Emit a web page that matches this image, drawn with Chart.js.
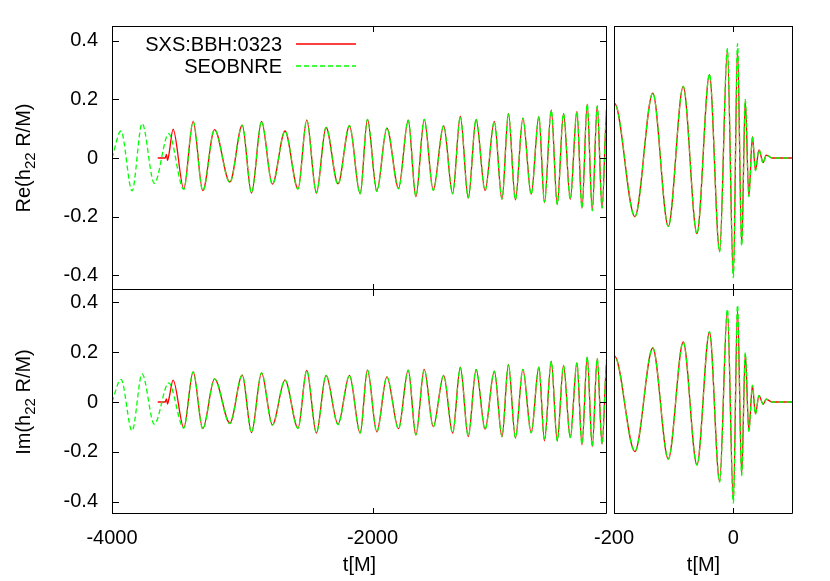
<!DOCTYPE html>
<html>
<head>
<meta charset="utf-8">
<script src="https://cdn.jsdelivr.net/npm/chart.js@4.4.1/dist/chart.umd.min.js"></script>
<style>
  body { margin: 0; background: #fff; }
  #wrap { position: relative; width: 830px; height: 581px; font-family: "Liberation Sans", Arial, sans-serif; }
  canvas { position: absolute; }
  .lgText { position: absolute; font-size: 20px; line-height: 22px; color: #000; text-align: right; white-space: nowrap; }
  .lgLine { position: absolute; }
</style>
</head>
<body>
<div id="wrap">
  <canvas id="reLeft" width="607" height="290" style="left:0;top:0"></canvas>
  <canvas id="reRight" width="240" height="290" style="left:560px;top:0"></canvas>
  <canvas id="imLeft" width="607" height="291" style="left:0;top:290px"></canvas>
  <canvas id="imRight" width="240" height="291" style="left:560px;top:290px"></canvas>

  <div class="lgText" style="right:548px;top:33px">SXS:BBH:0323</div>
  <div class="lgText" style="right:548px;top:55px">SEOBNRE</div>
  <svg class="lgLine" style="left:296px;top:40px" width="62" height="30">
    <line x1="0" y1="4" x2="60" y2="4" stroke="#ff0000" stroke-width="1.3"/>
    <line x1="0" y1="26" x2="60" y2="26" stroke="#00ff00" stroke-width="1.3" stroke-dasharray="5,3"/>
  </svg>
</div>
<script>
  // --- données (extrema de la forme d'onde) ---
  // début de la série SEOBNRE (avant l'arrivée des données SXS)
  const tEarlySEOB = [-4000, -3931, -3846, -3769, -3675, -3565];
  const reEarlySEOB = [0, 0.092, -0.112, 0.118, -0.086, 0.083];
  const imEarlySEOB = [0, 0.091, -0.116, 0.113, -0.089, 0.077];

  // début de la série SXS (avec le "junk radiation")
  const tEarlySXS = [-3649, -3592, -3582, -3574, -3562, -3531];
  const reEarlySXS = [0, 0, 0.012, -0.008, 0.015, 0.098];
  const imEarlySXS = [0, 0, 0.012, -0.008, 0.015, 0.088];

  // temps communs des extrema
  const tMain = [
    -3449, -3377, -3303, -3213, -3095, -3000, -2929, -2852, -2769, -2672,
    -2572, -2505, -2431, -2357, -2265, -2177, -2095, -2039, -1967, -1890,
    -1800, -1726, -1667, -1603, -1534, -1454, -1385, -1326, -1265, -1205,
    -1136, -1065, -1006, -957, -903, -846, -782, -723, -680, -628,
    -582, -534, -482, -431, -392, -352, -313, -275, -238, -199,
    -165, -135, -109, -84, -61, -40, -23, -10, 0, 7,
    14, 20, 26, 32, 37, 43, 50, 55, 65, 100
  ];

  const reSEOB = [
    -0.107, 0.125, -0.113, 0.097, -0.084, 0.112, -0.118, 0.125, -0.090, 0.092,
    -0.106, 0.129, -0.118, 0.104, -0.090, 0.110, -0.122, 0.132, -0.114, 0.102,
    -0.105, 0.129, -0.130, 0.132, -0.110, 0.110, -0.122, 0.141, -0.135, 0.132,
    -0.111, 0.125, -0.139, 0.150, -0.142, 0.136, -0.124, 0.141, -0.150, 0.162,
    -0.158, 0.152, -0.141, 0.159, -0.170, 0.184, -0.180, 0.178, -0.171, 0.186,
    -0.200, 0.221, -0.233, 0.244, -0.258, 0.286, -0.320, 0.373, -0.408, 0.390,
    -0.300, 0.200, -0.132, 0.075, -0.043, 0.029, -0.017, 0.010, 0, 0
  ];
  const reSXS = [
    -0.105, 0.125, -0.111, 0.097, -0.082, 0.112, -0.120, 0.125, -0.089, 0.092,
    -0.105, 0.129, -0.120, 0.104, -0.088, 0.110, -0.122, 0.132, -0.112, 0.102,
    -0.103, 0.129, -0.132, 0.132, -0.109, 0.110, -0.122, 0.143, -0.137, 0.132,
    -0.111, 0.125, -0.141, 0.152, -0.143, 0.136, -0.123, 0.141, -0.152, 0.164,
    -0.158, 0.152, -0.141, 0.159, -0.172, 0.184, -0.178, 0.178, -0.170, 0.186,
    -0.200, 0.221, -0.233, 0.244, -0.258, 0.284, -0.318, 0.368, -0.398, 0.372,
    -0.296, 0.196, -0.130, 0.073, -0.042, 0.028, -0.016, 0.010, 0, 0
  ];

  const imSEOB = [
    -0.105, 0.121, -0.109, 0.093, -0.087, 0.108, -0.121, 0.117, -0.093, 0.088,
    -0.106, 0.127, -0.123, 0.107, -0.091, 0.107, -0.124, 0.128, -0.121, 0.101,
    -0.108, 0.128, -0.131, 0.131, -0.100, 0.107, -0.124, 0.138, -0.137, 0.131,
    -0.110, 0.124, -0.138, 0.149, -0.143, 0.131, -0.124, 0.140, -0.154, 0.162,
    -0.156, 0.147, -0.143, 0.157, -0.170, 0.180, -0.180, 0.175, -0.170, 0.184,
    -0.199, 0.217, -0.229, 0.241, -0.253, 0.283, -0.322, 0.373, -0.406, 0.390,
    -0.296, 0.199, -0.118, 0.068, -0.049, 0.027, -0.009, 0.011, 0, 0
  ];
  const imSXS = [
    -0.103, 0.121, -0.107, 0.093, -0.085, 0.108, -0.123, 0.117, -0.092, 0.088,
    -0.105, 0.127, -0.125, 0.107, -0.089, 0.107, -0.125, 0.128, -0.120, 0.101,
    -0.107, 0.128, -0.133, 0.131, -0.099, 0.107, -0.125, 0.140, -0.139, 0.131,
    -0.109, 0.124, -0.140, 0.151, -0.145, 0.131, -0.123, 0.140, -0.156, 0.164,
    -0.156, 0.147, -0.143, 0.157, -0.172, 0.180, -0.179, 0.175, -0.169, 0.184,
    -0.199, 0.217, -0.229, 0.241, -0.253, 0.281, -0.318, 0.366, -0.395, 0.372,
    -0.290, 0.194, -0.116, 0.067, -0.048, 0.026, -0.009, 0.011, 0, 0
  ];

  // graduations
  const yTicks = [-0.4, -0.2, 0, 0.2, 0.4];
  const xTicksLeft = [-4000, -2000];
  const xTicksRight = [-200, 0];

  const FONT = "'Liberation Sans', Arial, sans-serif";

  // construit les points {x, y}
  function pts(t, v) {
    return t.map((x, i) => ({ x: x, y: v[i] }));
  }

  // cadre + graduations intérieures façon gnuplot + titre de l'axe y
  const framePlugin = {
    id: 'frame',
    afterDraw(chart, args, opts) {
      const ctx = chart.ctx;
      const a = chart.chartArea;
      const sx = chart.scales.x, sy = chart.scales.y;
      const L = a.left + 0.5, R = a.right - 0.5, T = a.top + 0.5, B = a.bottom - 0.5;
      ctx.save();
      ctx.strokeStyle = '#000';
      ctx.lineWidth = 1;
      ctx.beginPath();
      // le bord haut des panneaux du bas est déjà tracé par ceux du haut
      if (!opts.noTop) { ctx.moveTo(L, T); ctx.lineTo(R, T); }
      ctx.moveTo(R, a.top); ctx.lineTo(R, B);
      ctx.lineTo(L, B);
      ctx.lineTo(L, a.top);
      (opts.xTicks || []).forEach(v => {
        const px = Math.round(sx.getPixelForValue(v)) + 0.5;
        ctx.moveTo(px, a.bottom); ctx.lineTo(px, a.bottom - 6);
        ctx.moveTo(px, a.top); ctx.lineTo(px, a.top + 6);
      });
      (opts.yTicks || []).forEach(v => {
        const py = Math.round(sy.getPixelForValue(v)) + 0.5;
        ctx.moveTo(a.left, py); ctx.lineTo(a.left + 7, py);
        ctx.moveTo(a.right, py); ctx.lineTo(a.right - 7, py);
      });
      ctx.stroke();

      if (opts.yTitle) {
        const parts = [[opts.yTitle[0], 20, 0], ['22', 15, 5], [opts.yTitle[1], 20, 0]];
        let total = 0;
        parts.forEach(p => { ctx.font = p[1] + 'px ' + FONT; total += ctx.measureText(p[0]).width; });
        ctx.translate(23, (a.top + a.bottom) / 2);
        ctx.rotate(-Math.PI / 2);
        ctx.fillStyle = '#000';
        ctx.textBaseline = 'alphabetic';
        let x = -total / 2;
        parts.forEach(p => {
          ctx.font = p[1] + 'px ' + FONT;
          ctx.fillText(p[0], x, 7 + p[2]);
          x += ctx.measureText(p[0]).width;
        });
      }
      ctx.restore();
    }
  };

  function makePanel(id, tS, vS, tE, vE, o) {
    const ctx = document.getElementById(id);
    new Chart(ctx, {
      type: 'line',
      data: {
        datasets: [
          {
            label: 'SEOBNRE',
            data: pts(tE, vE),
            borderColor: '#00ff00',
            borderWidth: 1.3,
            borderDash: [5, 3],
            pointRadius: 0,
            cubicInterpolationMode: 'monotone',
            fill: false
          },
          {
            label: 'SXS:BBH:0323',
            data: pts(tS, vS),
            borderColor: '#ff0000',
            borderWidth: 1.3,
            pointRadius: 0,
            cubicInterpolationMode: 'monotone',
            fill: false
          }
        ]
      },
      options: {
        responsive: false,
        animation: false,
        events: [],
        layout: { padding: o.padding },
        plugins: {
          legend: { display: false },
          tooltip: { enabled: false },
          frame: { xTicks: o.xTicks, yTicks: o.showY ? yTicks : [], yTitle: o.yTitle, noTop: o.showX }
        },
        scales: {
          x: {
            type: 'linear',
            min: o.xMin,
            max: o.xMax,
            afterBuildTicks: s => { s.ticks = o.xTicks.map(v => ({ value: v })); },
            afterFit: s => { s.height = o.xHeight; s.paddingLeft = 0; s.paddingRight = 0; },
            grid: { display: false, drawTicks: false },
            border: { display: false },
            ticks: {
              display: o.showX, padding: 12, maxRotation: 0, autoSkip: false,
              color: '#000', font: { family: FONT, size: 20 },
              callback: v => String(v)
            },
            title: {
              display: o.showX, text: 't[M]', color: '#000',
              font: { family: FONT, size: 20 }, padding: { top: 0, bottom: 4 }
            }
          },
          y: {
            min: -0.45,
            max: 0.45,
            afterBuildTicks: s => { s.ticks = yTicks.map(v => ({ value: v })); },
            afterFit: s => { s.width = o.yWidth; s.paddingTop = 0; s.paddingBottom = 0; },
            grid: { display: false, drawTicks: false },
            border: { display: false },
            ticks: {
              display: o.showY, padding: 14,
              color: '#000', font: { family: FONT, size: 20 },
              callback: v => (v === 0 ? '0' : v.toFixed(1))
            }
          }
        }
      },
      plugins: [framePlugin]
    });
  }

  const tSXS = tEarlySXS.concat(tMain);
  const tSEOB = tEarlySEOB.concat(tMain);

  // Re, gauche
  makePanel('reLeft', tSXS, reEarlySXS.concat(reSXS), tSEOB, reEarlySEOB.concat(reSEOB), {
    xMin: -4000, xMax: -200, xTicks: xTicksLeft, showX: false, showY: true,
    xHeight: 0, yWidth: 112, padding: { top: 26, left: 0, right: 0, bottom: 0 },
    yTitle: ['Re(h', ' R/M)']
  });
  // Re, droite
  makePanel('reRight', tSXS, reEarlySXS.concat(reSXS), tSEOB, reEarlySEOB.concat(reSEOB), {
    xMin: -200, xMax: 100, xTicks: xTicksRight, showX: false, showY: false,
    xHeight: 0, yWidth: 0, padding: { top: 26, left: 54, right: 7, bottom: 0 }
  });
  // Im, gauche
  makePanel('imLeft', tSXS, imEarlySXS.concat(imSXS), tSEOB, imEarlySEOB.concat(imSEOB), {
    xMin: -4000, xMax: -200, xTicks: xTicksLeft, showX: true, showY: true,
    xHeight: 67, yWidth: 112, padding: { top: 0, left: 0, right: 0, bottom: 0 },
    yTitle: ['Im(h', ' R/M)']
  });
  // Im, droite
  makePanel('imRight', tSXS, imEarlySXS.concat(imSXS), tSEOB, imEarlySEOB.concat(imSEOB), {
    xMin: -200, xMax: 100, xTicks: xTicksRight, showX: true, showY: false,
    xHeight: 67, yWidth: 0, padding: { top: 0, left: 54, right: 7, bottom: 0 }
  });
</script>
</body>
</html>
